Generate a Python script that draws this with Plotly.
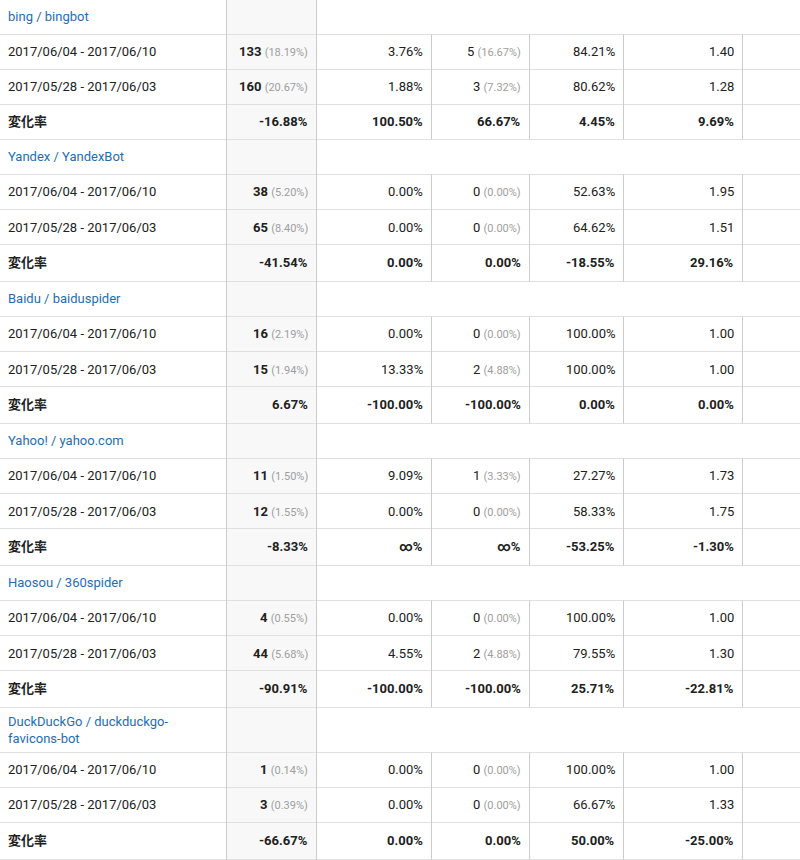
import math
import plotly.graph_objects as go

# ---------------- data ----------------
groups = ["bing / bingbot", "Yandex / YandexBot", "Baidu / baiduspider",
          "Yahoo! / yahoo.com", "Haosou / 360spider",
          "DuckDuckGo / duckduckgo-<br>favicons-bot"]
period_labels = ["2017/06/04 - 2017/06/10", "2017/05/28 - 2017/06/03"]
change_label = "変化率"
INF = float("inf")

sessions_cur = [133, 38, 16, 11, 4, 1]
sessions_cur_pct = [18.19, 5.20, 2.19, 1.50, 0.55, 0.14]
sessions_prev = [160, 65, 15, 12, 44, 3]
sessions_prev_pct = [20.67, 8.40, 1.94, 1.55, 5.68, 0.39]
sessions_change = [-16.88, -41.54, 6.67, -8.33, -90.91, -66.67]

new_rate_cur = [3.76, 0.00, 0.00, 9.09, 0.00, 0.00]
new_rate_prev = [1.88, 0.00, 13.33, 0.00, 4.55, 0.00]
new_rate_change = [100.50, 0.00, -100.00, INF, -100.00, 0.00]

new_users_cur = [5, 0, 0, 1, 0, 0]
new_users_cur_pct = [16.67, 0.00, 0.00, 3.33, 0.00, 0.00]
new_users_prev = [3, 0, 2, 0, 2, 0]
new_users_prev_pct = [7.32, 0.00, 4.88, 0.00, 4.88, 0.00]
new_users_change = [66.67, 0.00, -100.00, INF, -100.00, 0.00]

bounce_cur = [84.21, 52.63, 100.00, 27.27, 100.00, 100.00]
bounce_prev = [80.62, 64.62, 100.00, 58.33, 79.55, 66.67]
bounce_change = [4.45, -18.55, 0.00, -53.25, 25.71, 50.00]

pages_cur = [1.40, 1.95, 1.00, 1.73, 1.00, 1.00]
pages_prev = [1.28, 1.51, 1.00, 1.75, 1.30, 1.33]
pages_change = [9.69, 29.16, 0.00, -1.30, -22.81, -25.00]

# ---------------- style / layout ----------------
W, H = 800, 860
FONT = "Roboto, 'Noto Sans CJK JP', sans-serif"
TXT = "#212121"
LINK = "#1f6db3"
SUB = "#9e9e9e"
HLINE = "#e0e0e0"
VLINE = "#cccccc"
GRAYCOL = "#f8f8f8"
col_edges = [0, 226.5, 316.5, 431.5, 529.5, 623.5, 742.5, 800]
PAD_R = 9
PAD_L = 8


def pct(v):
    if v == INF:
        return "∞%"
    return f"{v:.2f}%"


def sub(v):
    return f' <span style="font-size:11px;color:{SUB}">({v:.2f}%)</span>'


fig = go.Figure()
fig.add_trace(go.Scatter(x=[], y=[], showlegend=False))

shapes = []
annotations = []


def add_text(x, y, text, anchor="right", color=TXT):
    annotations.append(dict(
        x=x, y=y, xref="x", yref="y", text=text, showarrow=False,
        xanchor=anchor, yanchor="middle", align=anchor,
        font=dict(family=FONT, size=13, color=color),
        borderpad=0, borderwidth=0))


def hline(y):
    yy = math.floor(y) + 0.5
    shapes.append(dict(type="line", xref="x", yref="y", x0=0, x1=W, y0=yy, y1=yy,
                       line=dict(color=HLINE, width=1), layer="above"))


# gray column fill (full height)
shapes.append(dict(type="rect", xref="x", yref="y", x0=col_edges[1], x1=col_edges[2],
                   y0=0, y1=H, fillcolor=GRAYCOL, line=dict(width=0), layer="below"))

y = -1.0
HEADER_H, HEADER_H2, ROW_H = 35.1, 45.0, 35.1
for g in range(len(groups)):
    hh = HEADER_H2 if "<br>" in groups[g] else HEADER_H
    ch = 35.0 if g == 0 else 36.7
    # header row
    add_text(PAD_L, y + hh / 2, groups[g], anchor="left", color=LINK)
    y += hh
    hline(y)
    top_data = y
    rows = [
        (period_labels[0],
         [f"<b>{sessions_cur[g]}</b>" + sub(sessions_cur_pct[g]),
          pct(new_rate_cur[g]),
          f"{new_users_cur[g]}" + sub(new_users_cur_pct[g]),
          pct(bounce_cur[g]),
          f"{pages_cur[g]:.2f}"], ROW_H),
        (period_labels[1],
         [f"<b>{sessions_prev[g]}</b>" + sub(sessions_prev_pct[g]),
          pct(new_rate_prev[g]),
          f"{new_users_prev[g]}" + sub(new_users_prev_pct[g]),
          pct(bounce_prev[g]),
          f"{pages_prev[g]:.2f}"], ROW_H),
        (f"<b>{change_label}</b>",
         [f"<b>{pct(sessions_change[g])}</b>",
          f"<b>{pct(new_rate_change[g])}</b>",
          f"<b>{pct(new_users_change[g])}</b>",
          f"<b>{pct(bounce_change[g])}</b>",
          f"<b>{pct(pages_change[g])}</b>"], ch),
    ]
    for label, vals, rh in rows:
        cy = y + rh / 2
        add_text(PAD_L, cy, label, anchor="left")
        for ci, v in enumerate(vals):
            add_text(col_edges[ci + 2] - PAD_R, cy, v)
        y += rh
        hline(y)
    # vertical lines for the data rows (other than the gray column borders)
    for xe in col_edges[3:7]:
        shapes.append(dict(type="line", xref="x", yref="y", x0=xe, x1=xe,
                           y0=math.floor(top_data) + 0.5, y1=math.floor(y) + 0.5,
                           line=dict(color=VLINE, width=1), layer="above"))

# gray column borders (full height)
for xe in col_edges[1:3]:
    shapes.append(dict(type="line", xref="x", yref="y", x0=xe, x1=xe, y0=0, y1=H,
                       line=dict(color=VLINE, width=1), layer="above"))

fig.update_layout(
    width=W, height=H, margin=dict(l=0, r=0, t=0, b=0),
    paper_bgcolor="white", plot_bgcolor="white",
    xaxis=dict(range=[0, W], visible=False, fixedrange=True),
    yaxis=dict(range=[H, 0], visible=False, fixedrange=True),
    shapes=shapes, annotations=annotations, showlegend=False,
)

fig.write_html("out.html", config={"displayModeBar": False},
               post_script="document.body.style.margin='0px';"
                           "document.body.style.overflow='hidden';")
